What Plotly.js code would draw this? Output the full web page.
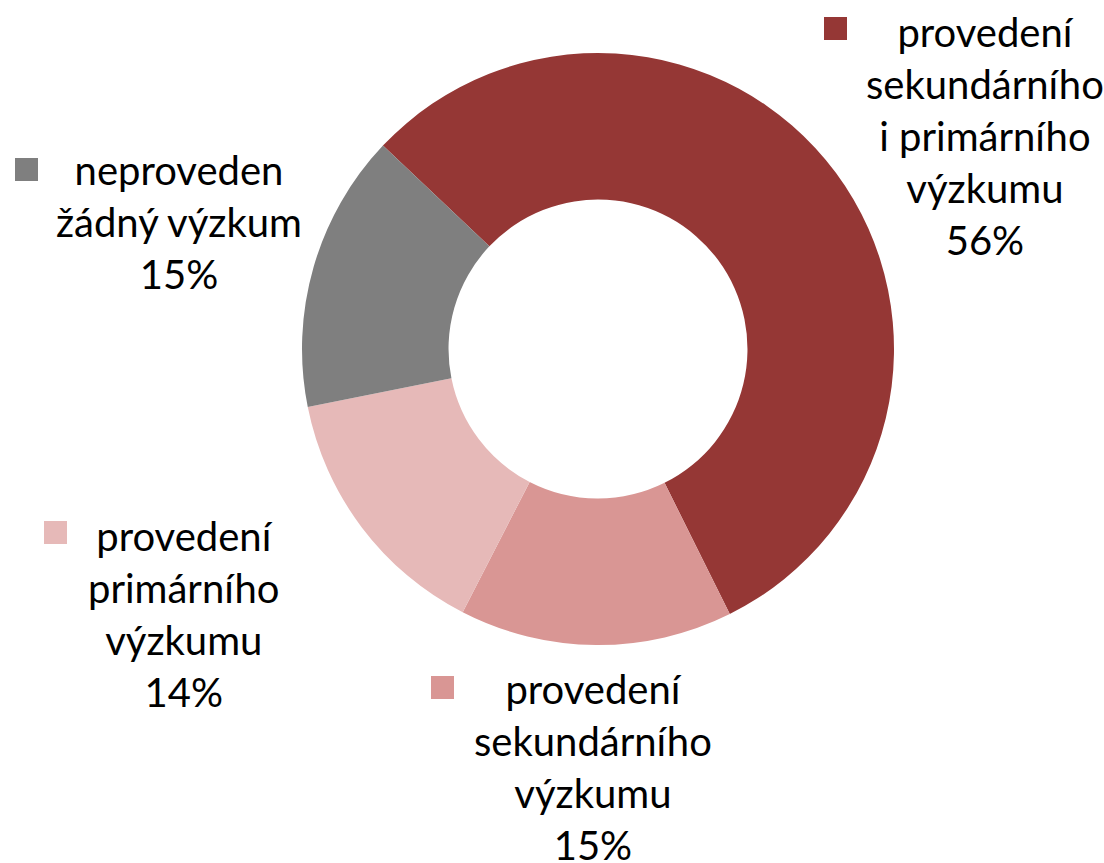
<!DOCTYPE html>
<html>
<head>
<meta charset="utf-8">
<script src="https://cdn.plot.ly/plotly-3.0.1.min.js"></script>
<style>html,body{margin:0;padding:0;background:#fff}#chart{width:1104px;height:863px}</style>
</head>
<body>
<div id="chart"></div>
<script>
// Data
const categories = [
  "provedení<br>sekundárního<br>i primárního<br>výzkumu",
  "provedení<br>sekundárního<br>výzkumu",
  "provedení<br>primárního<br>výzkumu",
  "neproveden<br>žádný výzkum"
];
const values = [55.6, 14.9, 14.3, 15.2];
const colors = ["#953735", "#D99694", "#E6B9B8", "#7F7F7F"];

// Label layout (pixel positions of text block centres and legend keys)
const W = 1104, H = 863;
const labelPos = [
  {cx: 985, cy: 136, kx: 824, ky: 17},
  {cx: 593, cy: 767, kx: 431, ky: 676},
  {cx: 184, cy: 614, kx: 44, ky: 521},
  {cx: 179, cy: 222, kx: 15, ky: 158}
];
const keySize = 23;
const fontFamily = "Lato, 'Open Sans', sans-serif";
const fontSize = 40;

const total = values.reduce((a, b) => a + b, 0);

const trace = {
  type: 'pie',
  labels: categories.map(c => c.replace(/<br>/g, ' ')),
  values: values,
  hole: 0.505,
  sort: false,
  direction: 'clockwise',
  rotation: -46.6,
  marker: {colors: colors, line: {width: 0}},
  textinfo: 'none',
  hoverinfo: 'label+percent',
  domain: {x: [(598 - 296) / W, (598 + 296) / W], y: [1 - (349 + 296) / H, 1 - (349 - 296) / H]},
  showlegend: false
};

const annotations = categories.map((c, i) => ({
  xref: 'paper', yref: 'paper',
  x: labelPos[i].cx / W, y: 1 - labelPos[i].cy / H,
  xanchor: 'center', yanchor: 'middle',
  text: c + '<br>' + Math.round(values[i] / total * 100) + '%',
  showarrow: false,
  align: 'center',
  font: {family: fontFamily, size: fontSize, color: '#000'}
}));

const shapes = categories.map((c, i) => ({
  type: 'rect', xref: 'paper', yref: 'paper',
  x0: labelPos[i].kx / W, x1: (labelPos[i].kx + keySize) / W,
  y0: 1 - (labelPos[i].ky + keySize) / H, y1: 1 - labelPos[i].ky / H,
  fillcolor: colors[i], line: {width: 0}
}));

const layout = {
  width: W, height: H,
  margin: {l: 0, r: 0, t: 0, b: 0},
  paper_bgcolor: '#fff',
  plot_bgcolor: '#fff',
  annotations: annotations,
  shapes: shapes
};

Plotly.newPlot('chart', [trace], layout, {displayModeBar: false, staticPlot: true});
</script>
</body>
</html>
